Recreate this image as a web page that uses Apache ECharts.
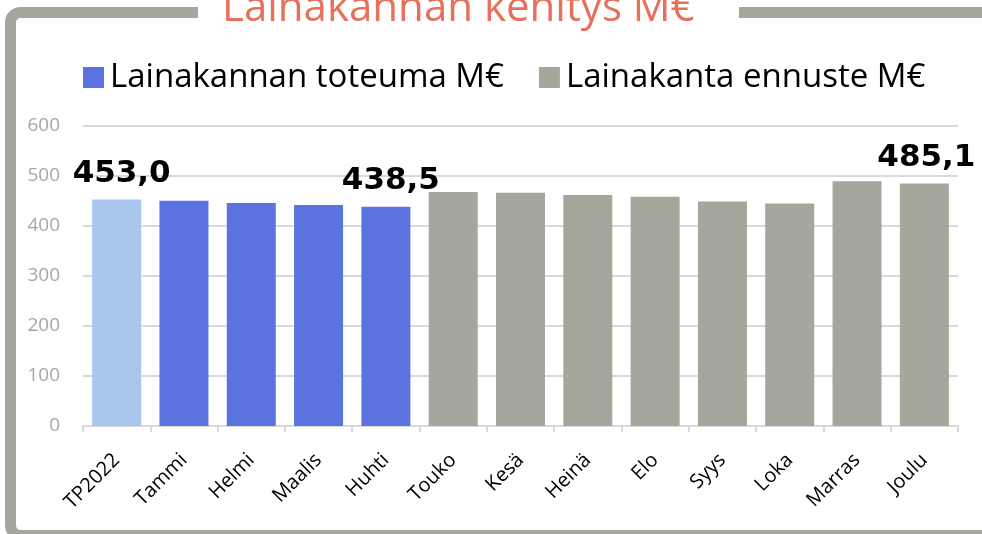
<!DOCTYPE html>
<html>
<head>
<meta charset="utf-8">
<script src="https://cdn.jsdelivr.net/npm/echarts@6/dist/echarts.min.js"></script>
<style>
    html, body { margin: 0; padding: 0; background: #fff; }
    #chart { width: 982px; height: 534px; }
</style>
</head>
<body>
<div id="chart"></div>
<script>
// kuukaudet
var categories = ['TP2022', 'Tammi', 'Helmi', 'Maalis', 'Huhti', 'Touko', 'Kesä', 'Heinä', 'Elo', 'Syys', 'Loka', 'Marras', 'Joulu'];
// toteuma (TP2022 + tammi-huhti)
var toteuma = [453.0, 450.5, 446, 442, 438.5, null, null, null, null, null, null, null, null];
// ennuste (touko-joulu)
var ennuste = [null, null, null, null, null, 468, 466.5, 462, 458.5, 449, 445, 489.5, 485.1];
var yTicks = [0, 100, 200, 300, 400, 500, 600];
var labelIdx = [0, 4, 12];

var colTP = '#a9c6ec';
var colToteuma = '#5b73e0';
var colEnnuste = '#a6a69c';

function fmt(v) {
    return v.toFixed(1).replace('.', ',');
}

function buildData(arr) {
    return arr.map(function (v, i) {
        if (v === null) return '-';
        var item = {value: v};
        if (i === 0) item.itemStyle = {color: colTP};
        if (labelIdx.indexOf(i) >= 0) {
            item.label = {
                show: true,
                position: 'top',
                distance: 10,
                offset: [i === 12 ? 2 : 5, 0],
                formatter: function (p) { return fmt(p.value); },
                fontFamily: 'DejaVu Sans',
                fontWeight: 'bold',
                fontSize: 31,
                color: '#000'
            };
        }
        return item;
    });
}

var myChart = echarts.init(document.getElementById('chart'));
var option = {
    animation: false,
    backgroundColor: '#fff',
    title: {
        text: 'Lainakannan kehitys M€',
        left: 217,
        top: -17,
        textStyle: {
            fontFamily: 'Open Sans',
            fontWeight: 'normal',
            fontSize: 42,
            color: '#e8705a'
        },
        z: 10
    },
    graphic: [
        {   // kehys
            type: 'rect',
            z: 0,
            shape: {x: 10.5, y: 12.5, width: 1000, height: 523, r: 10},
            style: {fill: 'none', stroke: colEnnuste, lineWidth: 11}
        },
        {   // aukko otsikolle
            type: 'rect',
            z: 1,
            shape: {x: 198, y: 0, width: 541, height: 26},
            style: {fill: '#fff'}
        }
    ],
    legend: {
        left: 78,
        top: 56,
        itemWidth: 21,
        itemHeight: 21,
        itemGap: 35,
        icon: 'rect',
        textStyle: {
            fontFamily: 'Open Sans',
            fontSize: 33,
            color: '#000',
            padding: [0, 0, 0, 1]
        },
        data: ['Lainakannan toteuma M€', 'Lainakanta ennuste M€']
    },
    grid: {
        left: 83,
        right: 24,
        top: 126,
        bottom: 108
    },
    xAxis: {
        type: 'category',
        data: categories,
        axisLine: {lineStyle: {color: '#d9d9d9', width: 2}},
        axisTick: {show: true, length: 6, lineStyle: {color: '#d9d9d9', width: 2}},
        axisLabel: {
            rotate: 45,
            margin: 31,
            fontFamily: 'Open Sans',
            fontSize: 20,
            color: '#000'
        }
    },
    yAxis: {
        type: 'value',
        min: yTicks[0],
        max: yTicks[yTicks.length - 1],
        interval: 100,
        axisLine: {show: false},
        axisTick: {show: false},
        splitLine: {lineStyle: {color: '#d9d9d9', width: 2}},
        axisLabel: {
            margin: 23,
            fontFamily: 'Open Sans',
            fontSize: 19,
            color: '#a6a6a6'
        }
    },
    series: [
        {
            name: 'Lainakannan toteuma M€',
            type: 'bar',
            barWidth: 49,
            barGap: '-100%',
            itemStyle: {color: colToteuma},
            data: buildData(toteuma)
        },
        {
            name: 'Lainakanta ennuste M€',
            type: 'bar',
            barWidth: 49,
            barGap: '-100%',
            itemStyle: {color: colEnnuste},
            data: buildData(ennuste)
        }
    ]
};
myChart.setOption(option);
</script>
</body>
</html>
